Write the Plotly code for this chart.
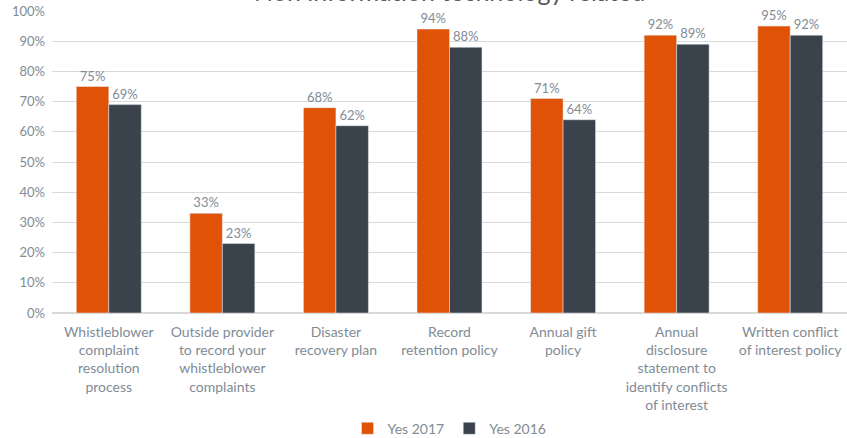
import plotly.graph_objects as go

categories = [
    "Whistleblower<br>complaint<br>resolution<br>process",
    "Outside provider<br>to record your<br>whistleblower<br>complaints",
    "Disaster<br>recovery plan",
    "Record<br>retention policy",
    "Annual gift<br>policy",
    "Annual<br>disclosure<br>statement to<br>identify conflicts<br>of interest",
    "Written conflict<br>of interest policy",
]
yes_2017 = [75, 33, 68, 94, 71, 92, 95]
yes_2016 = [69, 23, 62, 88, 64, 89, 92]
y_ticks = [0, 10, 20, 30, 40, 50, 60, 70, 80, 90, 100]
title_text = "Non information technology related"

FONT = "Lato"
TXT = "#7f8c96"

fig = go.Figure()
fig.add_trace(go.Bar(
    name="Yes 2017", x=categories, y=yes_2017, marker_color="#E05206",
    text=[f"{v}%" for v in yes_2017], textposition="outside",
    textfont=dict(color=TXT, size=13, family=FONT), cliponaxis=False,
))
fig.add_trace(go.Bar(
    name="Yes 2016", x=categories, y=yes_2016, marker_color="#3A434B",
    text=[f"{v}%" for v in yes_2016], textposition="outside",
    textfont=dict(color=TXT, size=13, family=FONT), cliponaxis=False,
))

fig.update_layout(
    width=847, height=438,
    margin=dict(l=52, r=0, t=11, b=125, autoexpand=False),
    paper_bgcolor="white", plot_bgcolor="white",
    barmode="group", bargap=0.428, bargroupgap=0,
    font=dict(family=FONT, color=TXT, size=14),
    showlegend=True,
    legend=dict(orientation="h", x=0.5, xanchor="center", y=-0.33, yanchor="top",
                font=dict(size=14, color="#7f8c96", family=FONT),
                itemwidth=30, traceorder="normal"),
    yaxis=dict(range=[0, 100], tickvals=y_ticks,
               ticktext=[f"{v}%" for v in y_ticks], automargin=False,
               gridcolor="#d9d9d9", zeroline=True, zerolinecolor="#d9d9d9",
               tickfont=dict(size=13, color=TXT), showline=False,
               ticklabelstandoff=6),
    xaxis=dict(tickfont=dict(size=14, color=TXT), showline=False, automargin=False,
               ticklabelstandoff=9),
    annotations=[dict(text=title_text, xref="paper", yref="paper",
                      x=0.5, y=1.01, xanchor="center", yanchor="bottom",
                      showarrow=False, font=dict(size=25, color="#595959", family=FONT))],
)
fig.write_html("out.html", config={"displayModeBar": False},
               post_script="document.body.style.margin='0';")
